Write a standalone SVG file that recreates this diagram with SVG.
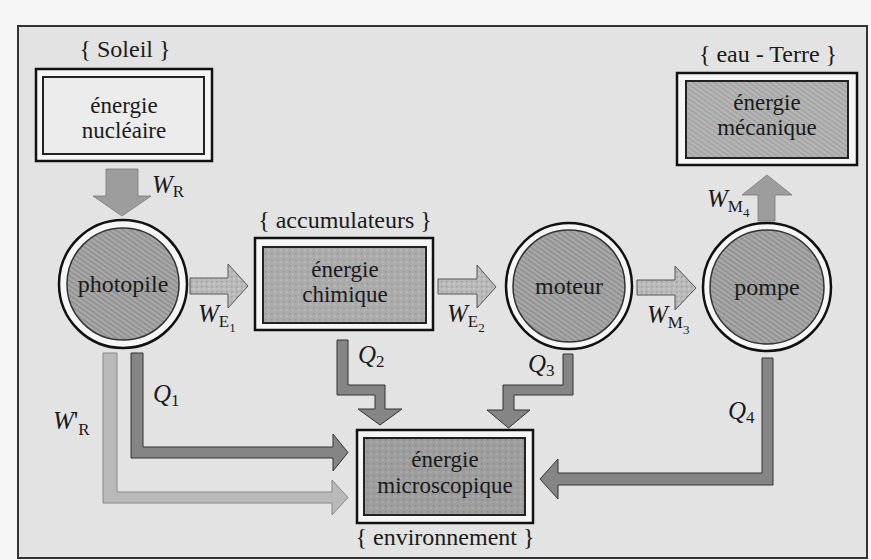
<svg xmlns="http://www.w3.org/2000/svg" width="871" height="560" viewBox="0 0 871 560" font-family="'Liberation Serif', 'DejaVu Serif', 'Times New Roman', serif">
<defs>
<pattern id="hatch" patternUnits="userSpaceOnUse" width="4" height="4" patternTransform="rotate(35)">
<rect width="4" height="4" fill="#a9a9a9"/>
<line x1="0" y1="2" x2="4" y2="2" stroke="#8a8a8a" stroke-width="1.4"/>
</pattern>
<pattern id="hatchL" patternUnits="userSpaceOnUse" width="4" height="4" patternTransform="rotate(35)">
<rect width="4" height="4" fill="#b6b6b6"/>
<line x1="0" y1="2" x2="4" y2="2" stroke="#9c9c9c" stroke-width="1.2"/>
</pattern>
<pattern id="stip" patternUnits="userSpaceOnUse" width="6" height="6">
<rect width="6" height="6" fill="#ababab"/>
<rect x="1" y="1" width="1.5" height="1.5" fill="#979797"/>
<rect x="4" y="3.5" width="1.5" height="1.5" fill="#c0c0c0"/>
</pattern>
<pattern id="stipD" patternUnits="userSpaceOnUse" width="6" height="6">
<rect width="6" height="6" fill="#9e9e9e"/>
<rect x="1" y="1" width="1.5" height="1.5" fill="#888"/>
<rect x="4" y="3.5" width="1.5" height="1.5" fill="#b2b2b2"/>
</pattern>
<pattern id="stipA" patternUnits="userSpaceOnUse" width="5" height="5">
<rect width="5" height="5" fill="#b9b9b9"/>
<rect x="1" y="1" width="1.5" height="1.5" fill="#a0a0a0"/>
<rect x="3" y="3" width="1.5" height="1.5" fill="#cdcdcd"/>
</pattern>
</defs>
<style>
text{font-family:'Liberation Serif','DejaVu Serif',serif}
.t{font-size:23px;fill:#1a1a1a;text-anchor:middle}
.b{font-size:24px;fill:#1a1a1a;text-anchor:middle}
.l{font-size:25px;fill:#1a1a1a}
.i{font-style:italic}
.s{font-size:17px}
.ss{font-size:13px}
.outer{fill:#f6f6f6;stroke:#111;stroke-width:2.5}
.inner{stroke:#222;stroke-width:2}
.ring{fill:#f6f6f6;stroke:#111;stroke-width:2.5}
.core{fill:url(#hatch);stroke:#333;stroke-width:1.5}
.flow{fill:url(#stipA);stroke:#555;stroke-width:1}
.solid{fill:#9d9d9d;stroke:#777;stroke-width:0.8}
.q{fill:#858585;stroke:#333;stroke-width:1}
.wr{fill:#b9b9b9;stroke:#888;stroke-width:1}
</style>
<rect x="0" y="0" width="871" height="560" fill="#f5f5f5"/>
<rect x="18" y="26" width="849" height="532" fill="#e3e3e3" stroke="#333" stroke-width="2"/>

<g id="connectors">
<polygon class="solid" points="106,169 138,169 138,196 151,196 122,216 93,196 106,196"/>
<polygon class="flow" points="190,278 228,278 228,264 248,286 228,308 228,294 190,294"/>
<polygon class="flow" points="438,279 477,279 477,265 496,287 477,308 477,294 438,294"/>
<polygon class="flow" points="637,280 675,280 675,266 696,288 675,310 675,295 637,295"/>
<polygon class="solid" points="758,221 775,221 775,195 792,195 767,175 742,195 758,195"/>
<polygon class="wr" points="103,353 117,353 117,492 332,492 332,480 348,497.5 332,515 332,503 103,503"/>
<polygon class="q" points="131,353 143,353 143,447 333,447 333,434 348,452.5 333,471 333,458 131,458"/>
<polygon class="q" points="337,340 348,340 348,385 385,385 385,409 402,409 380,425 358,409 375,409 375,395 337,395"/>
<polygon class="q" points="563,354 573,354 573,395 514,395 514,410 530,410 508.5,428 487,410 503,410 503,385 563,385"/>
<polygon class="q" points="762,358 773,358 773,485 558,485 558,499 540,479 558,459 558,473 762,473"/>
<text class="l" x="152" y="193"><tspan class="i">W</tspan><tspan class="s" dy="4">R</tspan></text>
<text class="l" x="198" y="322"><tspan class="i">W</tspan><tspan class="s" dy="5">E</tspan><tspan class="ss" dy="5">1</tspan></text>
<text class="l" x="447" y="322"><tspan class="i">W</tspan><tspan class="s" dy="5">E</tspan><tspan class="ss" dy="5">2</tspan></text>
<text class="l" x="647" y="323"><tspan class="i">W</tspan><tspan class="s" dy="5">M</tspan><tspan class="ss" dy="6">3</tspan></text>
<text class="l" x="707" y="207"><tspan class="i">W</tspan><tspan class="s" dy="5">M</tspan><tspan class="ss" dy="5">4</tspan></text>
<text class="l" x="53" y="429"><tspan class="i">W</tspan><tspan>'</tspan><tspan class="s" dy="6">R</tspan></text>
<text class="l" x="153" y="402"><tspan class="i">Q</tspan><tspan class="s" dy="4">1</tspan></text>
<text class="l" x="358" y="363"><tspan class="i">Q</tspan><tspan class="s" dy="4">2</tspan></text>
<text class="l" x="528" y="372"><tspan class="i">Q</tspan><tspan class="s" dy="4">3</tspan></text>
<text class="l" x="728" y="419"><tspan class="i">Q</tspan><tspan class="s" dy="4">4</tspan></text>
</g>

<g id="soleil">
<text class="b" x="125" y="57">{ Soleil }</text>
<rect class="outer" x="36" y="69" width="176" height="92"/>
<rect class="inner" x="43" y="77" width="161" height="77" fill="#ececec"/>
<text class="t" x="124" y="113">énergie</text>
<text class="t" x="124" y="138">nucléaire</text>
</g>

<g id="photopile">
<circle class="ring" cx="123" cy="284" r="64"/>
<circle class="core" cx="123" cy="284" r="56"/>
<text class="b" x="123" y="292">photopile</text>
</g>

<g id="accumulateurs">
<text class="b" x="345" y="228">{ accumulateurs }</text>
<rect class="outer" x="255" y="238" width="178" height="92"/>
<rect class="inner" x="263" y="247" width="163" height="76" fill="url(#stip)"/>
<text class="t" x="345" y="277">énergie</text>
<text class="t" x="345" y="302">chimique</text>
</g>

<g id="moteur">
<circle class="ring" cx="569" cy="286" r="63"/>
<circle class="core" cx="569" cy="286" r="56"/>
<text class="b" x="569" y="294">moteur</text>
</g>

<g id="pompe">
<circle class="ring" cx="767" cy="287" r="64"/>
<circle class="core" cx="767" cy="287" r="57"/>
<text class="b" x="767" y="295">pompe</text>
</g>

<g id="eau-terre">
<text class="b" x="768" y="62">{ eau - Terre }</text>
<rect class="outer" x="677" y="73" width="180" height="92"/>
<rect class="inner" x="686" y="81" width="162" height="77" fill="url(#hatchL)"/>
<text class="t" x="767" y="110">énergie</text>
<text class="t" x="767" y="135">mécanique</text>
</g>

<g id="environnement">
<rect class="outer" x="357" y="430" width="176" height="93"/>
<rect class="inner" x="364" y="438" width="161" height="77" fill="url(#stipD)"/>
<text class="t" x="445" y="467">énergie</text>
<text class="t" x="445" y="493">microscopique</text>
<text class="b" x="445" y="545">{ environnement }</text>
</g>
</svg>
